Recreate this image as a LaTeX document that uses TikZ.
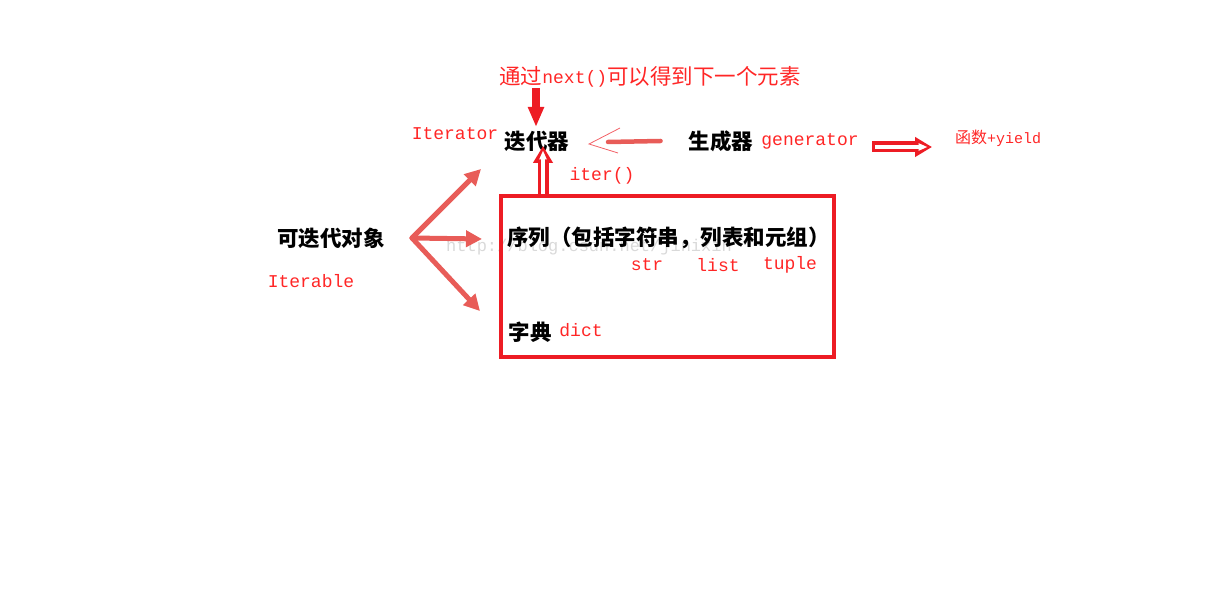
\documentclass[tikz,border=0pt]{standalone}
\usepackage{fontspec}
\setmainfont{Liberation Serif}
\newfontfamily\cjk{Noto Sans CJK SC}
\newfontfamily\mono{Liberation Mono}
\usetikzlibrary{arrows.meta}
\definecolor{penred}{HTML}{ED1C24}
\definecolor{txtred}{HTML}{FF2626}
\definecolor{brushred}{HTML}{E85C58}

\begin{document}
\begin{tikzpicture}[x=1pt,y=-1pt,inner sep=0pt,
    zh/.style={font=\cjk\bfseries\fontsize{21.5}{22}\selectfont},
    en/.style={font=\mono\fontsize{18}{20}\selectfont, text=txtred},
    brush/.style={draw=brushred, line width=5pt, line cap=round,
        -{Triangle[length=16pt,width=16pt]}},
    hollowout/.style={draw=penred, line width=11pt,
        -{Triangle[length=17pt,width=19pt]}},
    hollowin/.style={draw=white, line width=4pt, shorten >=4.5pt,
        -{Triangle[length=9pt,width=7pt]}}]
\useasboundingbox (0,0) rectangle (1207,601);

% watermark
\node[font=\mono\fontsize{17}{18}\selectfont, text=gray!30] (mark) at (589,247) {http://blog.csdn.net/jinixin};

\node[text=txtred] (next) at (650,77)
    {\cjk\fontsize{21.5}{22}\selectfont 通过\raisebox{1.5pt}{\mono\fontsize{18}{18}\selectfont next()}可以得到下一个元素};
\node[zh] (iter) at (537,141) {迭代器};
\node[en] (iterlbl) at (455,134) {Iterator};
\node[zh] (gen) at (721,141) {生成器};
\node[en] (genlbl) at (810,141) {generator};
\node[text=txtred] (func) at (998,138)
    {\cjk\fontsize{16}{17}\selectfont 函数\mono\fontsize{15}{16}\selectfont +yield};
\node[en] (iterfn) at (602,176) {iter()};

\node[zh] (iterable) at (331,238) {可迭代对象};
\node[en] (iterablelbl) at (311,281) {Iterable};

\node[zh, anchor=west] (seq) at (507,238) {序列（包括字符串，列表和元组）};
\node[en] (str) at (647,265) {str};
\node[en] (list) at (718,265) {list};
\node[en] (tuple) at (790,265) {tuple};
\node[zh] (dict) at (530,332) {字典};
\node[en] (dictlbl) at (581,330) {dict};

\coordinate (boxtop) at (543,196);
\coordinate (from) at (412,238);
\coordinate (yield) at (932,147);
\coordinate (gout) at (872,147);
\coordinate (itertip) at (543,146);

% arrows
\draw[penred, line width=8pt, -{Triangle[length=20pt,width=15pt]}]
    (536,88) -- (536,127);
\draw[hollowout] (boxtop) -- (itertip);
\draw[hollowin] (boxtop) -- (itertip);
\draw[hollowout] (gout) -- (yield);
\draw[hollowin] ([xshift=3pt]gout) -- (yield);
\draw[penred, line width=4pt] (501,196) rectangle (834,357);
\draw[brush] (from) -- (481,169);
\draw[brush] (from) -- (482,239);
\draw[brush] (from) -- (480,311);
\draw[draw=brushred, line width=4.5pt, line cap=round]
    (gen.west) ++(-28,0) coordinate (g0) -- (608,142);
\draw[draw=penred!70, line width=0.8pt] (620,128) -- (589,144) -- (618,153);
\end{tikzpicture}
\end{document}
